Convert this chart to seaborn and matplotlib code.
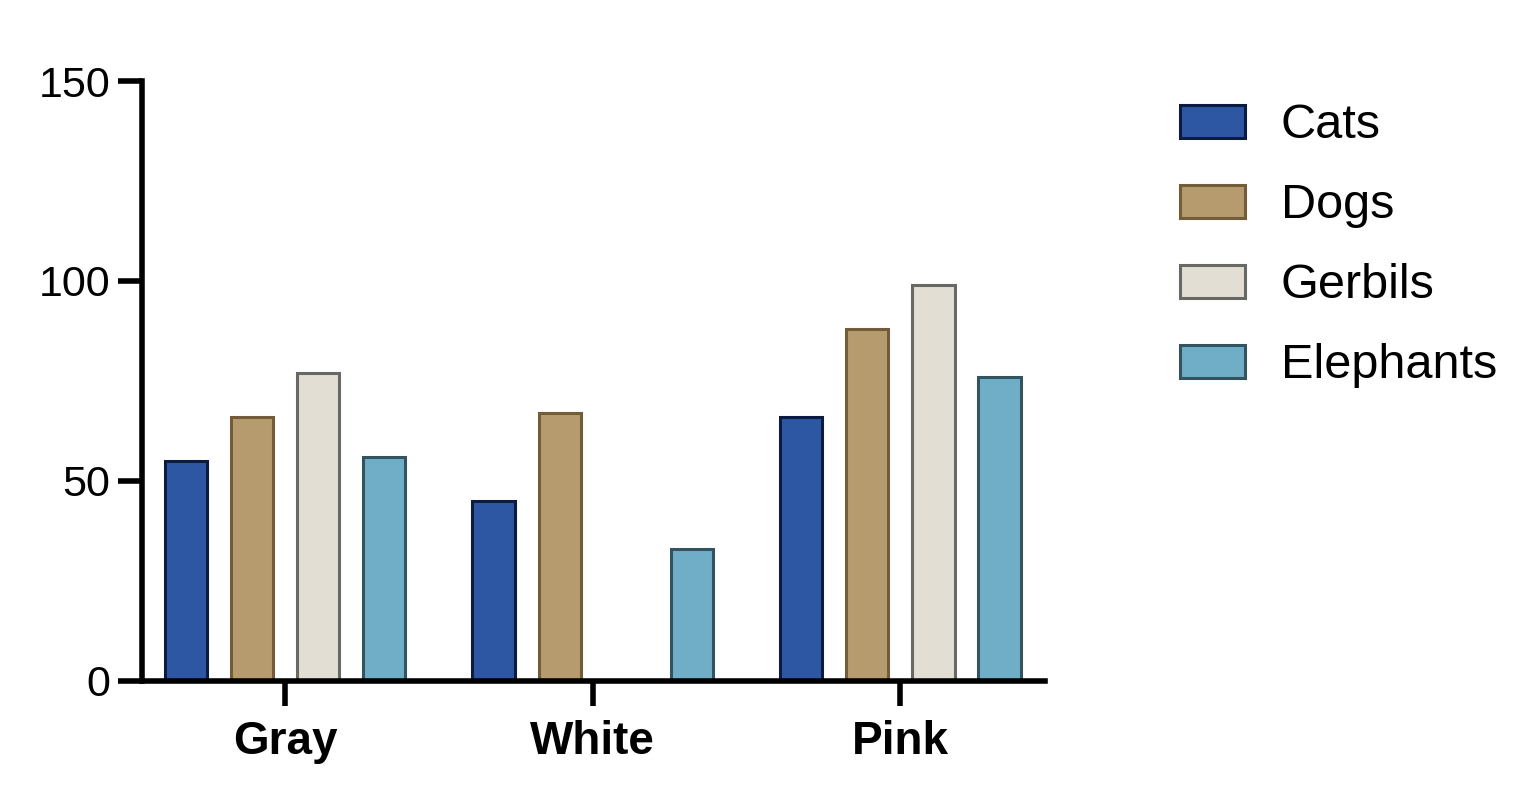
import numpy as np
import pandas as pd
import matplotlib
matplotlib.use('Agg')
import matplotlib.pyplot as plt
from matplotlib.patches import Patch
import seaborn as sns

# data
colours_of_animal = ['Gray', 'White', 'Pink']
animals = ['Cats', 'Dogs', 'Gerbils', 'Elephants']
cats = [55, 45, 66]
dogs = [66, 67, 88]
gerbils = [77, None, 99]
elephants = [56, 33, 76]

fills = ['#2E57A3', '#B59B6E', '#E2DED4', '#70AEC8']
edges = ['#0B1C40', '#735C38', '#686864', '#33545E']

rows = []
for name, vals in zip(animals, [cats, dogs, gerbils, elephants]):
    for c, v in zip(colours_of_animal, vals):
        rows.append({'group': c, 'animal': name, 'value': v})
df = pd.DataFrame(rows).dropna()

sns.set_style('ticks')
plt.rcParams['font.family'] = ['Liberation Sans', 'DejaVu Sans']
plt.rcParams.update({'text.color': 'black', 'axes.edgecolor': 'black',
                     'xtick.color': 'black', 'ytick.color': 'black',
                     'axes.labelcolor': 'black'})

fig = plt.figure(figsize=(15.39, 8.02), dpi=100)
ax = fig.add_axes([0.0923, 0.151, 0.679 - 0.0923, 0.899 - 0.151])

sns.barplot(data=df, x='group', y='value', hue='animal', order=colours_of_animal,
            hue_order=animals, palette=fills, width=0.86, gap=0.36,
            saturation=1, errorbar=None, legend=False, ax=ax)

for cont, ec in zip(ax.containers, edges):
    for p in cont:
        p.set_edgecolor(ec)
        p.set_linewidth(2.2)

ax.set_ylim(0, 150)
ax.set_xlim(-0.465, 2.47)
ax.set_yticks([0, 50, 100, 150])
ax.set_xlabel('')
ax.set_ylabel('')
sns.despine(ax=ax)
for s in ['left', 'bottom']:
    ax.spines[s].set_linewidth(4)
    ax.spines[s].set_color('black')
ax.tick_params(axis='y', length=17, width=4, pad=6, labelsize=31, colors='black')
ax.tick_params(axis='x', length=18, width=4, pad=10, labelsize=33, colors='black')
for t in ax.get_xticklabels():
    t.set_fontweight('bold')

handles = [Patch(facecolor=f, edgecolor=e, linewidth=2.2, label=a)
           for f, e, a in zip(fills, edges, animals)]
fig.legend(handles=handles, loc='upper left', bbox_to_anchor=(0.767, 0.871),
           frameon=False, fontsize=35, handlelength=1.32, handleheight=0.66,
           handletextpad=0.74, labelspacing=0.72, borderpad=0, borderaxespad=0)

fig.savefig('out.png', dpi=100)
